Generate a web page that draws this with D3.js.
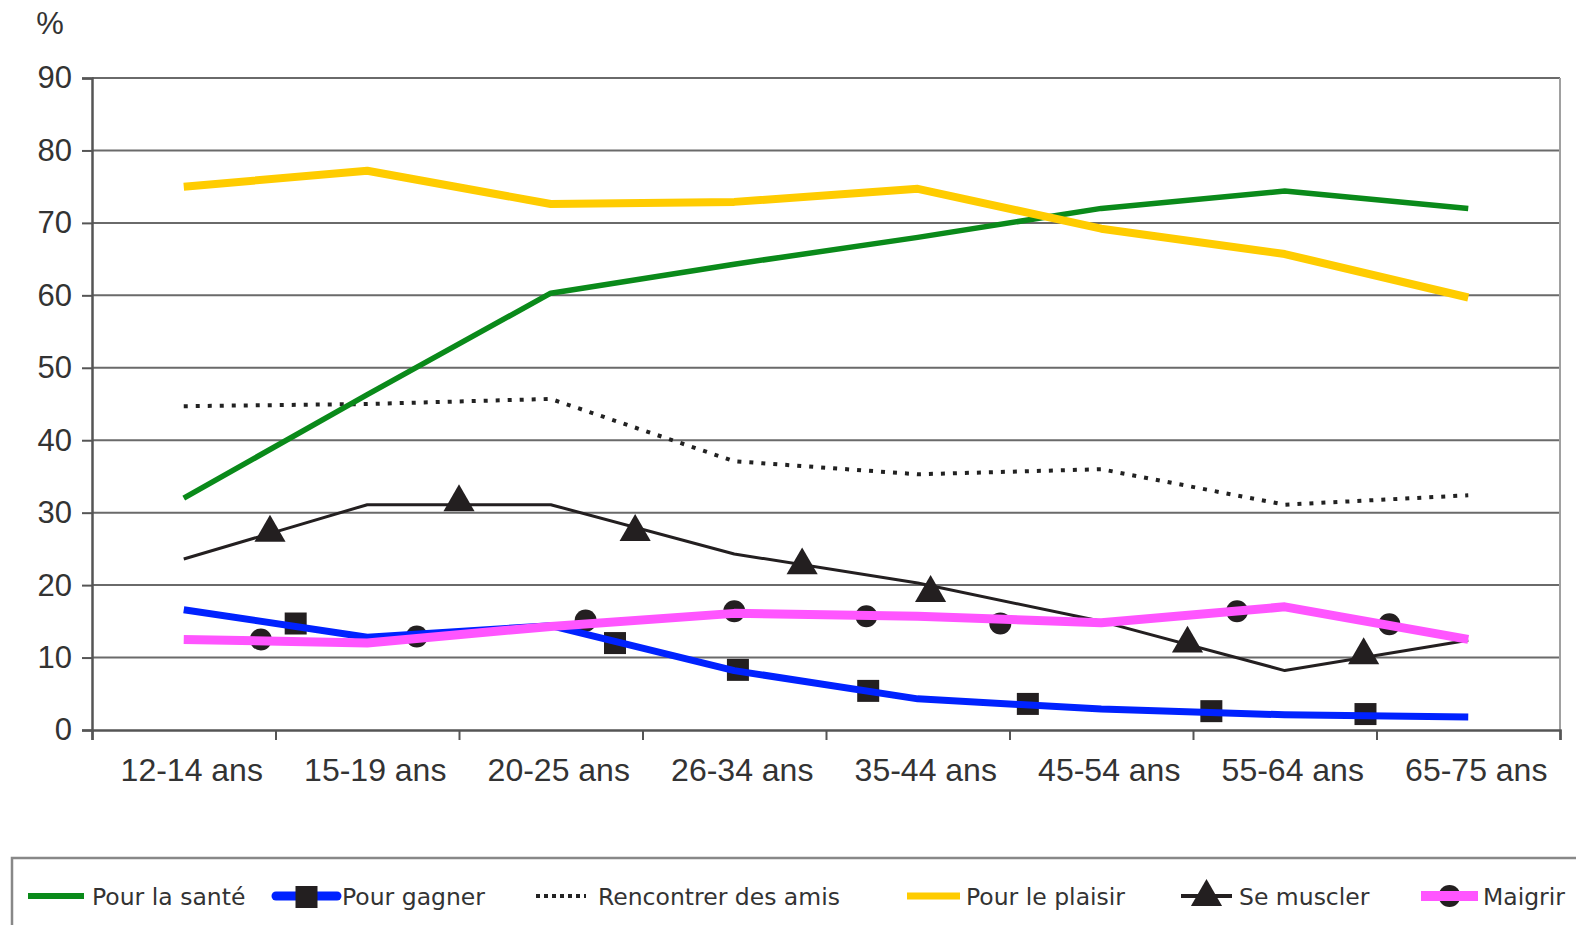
<!DOCTYPE html>
<html>
<head>
<meta charset="utf-8">
<script src="https://cdn.jsdelivr.net/npm/d3@7"></script>
<style>
  html, body { margin: 0; padding: 0; background: #fff; }
  svg { display: block; }
</style>
</head>
<body>
<svg id="chart" width="1576" height="925"></svg>
<script>
// Age groups (x categories)
const categories = ["12-14 ans", "15-19 ans", "20-25 ans", "26-34 ans", "35-44 ans", "45-54 ans", "55-64 ans", "65-75 ans"];
const yTicks = [0, 10, 20, 30, 40, 50, 60, 70, 80, 90];

// Percentages per age group
const sante      = [32, 46.3, 60.3, 64.3, 68, 72, 74.4, 72];
const gagner     = [16.6, 12.8, 14.4, 8.2, 4.3, 2.9, 2.1, 1.8];
const rencontrer = [44.7, 45, 45.7, 37.1, 35.3, 36, 31.1, 32.4];
const plaisir    = [75, 77.2, 72.6, 72.9, 74.7, 69.2, 65.7, 59.7];
const muscler    = [23.6, 31.1, 31.1, 24.3, 20.3, 15, 8.2, 12.4];
const maigrir    = [12.5, 12, 14.3, 16.1, 15.7, 14.8, 17, 12.5];

// Marker positions: [position along the category axis, value]
const gagnerMarkers  = [[0.61, 14.7], [2.35, 12], [3.02, 8.3], [3.73, 5.4], [4.6, 3.6], [5.6, 2.6], [6.44, 2.2]];
const musclerMarkers = [[0.47, 27.5], [1.5, 31.7], [2.46, 27.6], [3.37, 23], [4.07, 19.2], [5.47, 12.2], [6.43, 10.6]];
const maigrirMarkers = [[0.42, 12.5], [1.27, 12.9], [2.19, 15.1], [3.0, 16.4], [3.72, 15.7], [4.45, 14.7], [5.74, 16.4], [6.57, 14.6]];

const legendLabels = ["Pour la santé", "Pour gagner", "Rencontrer des amis", "Pour le plaisir", "Se muscler", "Maigrir"];

const svg = d3.select("#chart");
const plotLeft = 92, plotRight = 1560, plotTop = 78, plotBottom = 730;

const x = d3.scaleLinear().domain([-0.5, categories.length - 0.5]).range([plotLeft, plotRight]);
const y = d3.scaleLinear().domain([0, 90]).range([plotBottom, plotTop]);

const labelFont = "'Liberation Sans', Arial, sans-serif";
const legendFont = "'DejaVu Sans', Verdana, sans-serif";

// Horizontal gridlines
svg.append("g")
  .selectAll("line")
  .data(yTicks.filter(d => d > 0))
  .join("line")
  .attr("x1", plotLeft).attr("x2", plotRight)
  .attr("y1", d => y(d)).attr("y2", d => y(d))
  .attr("stroke", "#6a6a6a").attr("stroke-width", 2);

// Right border of the plot
svg.append("line")
  .attr("x1", plotRight).attr("x2", plotRight).attr("y1", plotTop).attr("y2", plotBottom)
  .attr("stroke", "#a0a0a0").attr("stroke-width", 2);

// Y axis
const yAxis = svg.append("g")
  .attr("transform", `translate(${plotLeft},0)`)
  .call(d3.axisLeft(y).tickValues(yTicks).tickSize(10).tickPadding(10));
yAxis.select(".domain").attr("stroke", "#555").attr("stroke-width", 2.5);
yAxis.selectAll(".tick line").attr("stroke", "#555").attr("stroke-width", 2);
yAxis.selectAll(".tick text")
  .attr("fill", "#333").style("font-family", labelFont).style("font-size", "31px");

// X axis: ticks between age groups
const xAxis = svg.append("g")
  .attr("transform", `translate(0,${plotBottom})`)
  .call(d3.axisBottom(x)
    .tickValues(d3.range(-0.5, categories.length, 1))
    .tickSize(10).tickFormat(""));
xAxis.select(".domain").attr("stroke", "#555").attr("stroke-width", 2.5);
xAxis.selectAll(".tick line").attr("stroke", "#555").attr("stroke-width", 2);

svg.append("g")
  .selectAll("text")
  .data(categories)
  .join("text")
  .attr("x", (d, i) => x(i) + 8)
  .attr("y", plotBottom + 51)
  .attr("text-anchor", "middle")
  .attr("fill", "#333")
  .style("font-family", labelFont).style("font-size", "32px")
  .text(d => d);

// Unit label
svg.append("text")
  .attr("x", 50).attr("y", 34)
  .attr("text-anchor", "middle")
  .attr("fill", "#333")
  .style("font-family", labelFont).style("font-size", "31px")
  .text("%");

const line = d3.line().x((d, i) => x(i)).y(d => y(d));
const plot = svg.append("g");

function drawLine(values, color, width, dash) {
  plot.append("path")
    .datum(values)
    .attr("d", line)
    .attr("fill", "none")
    .attr("stroke", color)
    .attr("stroke-width", width)
    .attr("stroke-linejoin", "round")
    .attr("stroke-dasharray", dash || null);
}

const circleSym = d3.symbol().type(d3.symbolCircle).size(Math.PI * 11 * 11);
const squareSym = d3.symbol().type(d3.symbolSquare).size(22 * 22);
const triSym = d3.symbol().type(d3.symbolTriangle).size(420);

function drawMarkers(points, sym, dy) {
  plot.append("g")
    .selectAll("path")
    .data(points)
    .join("path")
    .attr("transform", d => `translate(${x(d[0])},${y(d[1]) + (dy || 0)})`)
    .attr("d", sym)
    .attr("fill", "#231f20");
}

// Series
drawLine(rencontrer, "#222", 4, "4 8");
drawLine(sante, "#0a8a1a", 5.5);
drawLine(plaisir, "#ffcc00", 8);
drawMarkers(maigrirMarkers, circleSym);
drawMarkers(gagnerMarkers, squareSym);
drawLine(muscler, "#231f20", 3);
drawMarkers(musclerMarkers, triSym, 2);
drawLine(gagner, "#0022ff", 7);
drawLine(maigrir, "#ff55ff", 9);

// Legend
const legend = svg.append("g");
legend.append("rect")
  .attr("x", 12).attr("y", 858).attr("width", 1570).attr("height", 80)
  .attr("fill", "none").attr("stroke", "#888").attr("stroke-width", 2.5);

const legendItems = [
  { label: legendLabels[0], color: "#0a8a1a", width: 6, x0: 28, x1: 84, text: 92 },
  { label: legendLabels[1], color: "#0022ff", width: 9, x0: 276, x1: 337, text: 342, marker: squareSym, cap: "round" },
  { label: legendLabels[2], color: "#222", width: 4, x0: 536, x1: 586, text: 598, dash: "4 4" },
  { label: legendLabels[3], color: "#ffcc00", width: 7, x0: 907, x1: 960, text: 966 },
  { label: legendLabels[4], color: "#231f20", width: 4, x0: 1181, x1: 1232, text: 1239, marker: triSym, markerFirst: false },
  { label: legendLabels[5], color: "#ff55ff", width: 10, x0: 1421, x1: 1478, text: 1483, marker: circleSym, markerFirst: true }
];
const ly = 896;
legendItems.forEach(it => {
  const mx = (it.x0 + it.x1) / 2;
  if (it.marker && it.markerFirst) {
    legend.append("path").attr("transform", `translate(${mx},${ly})`).attr("d", it.marker).attr("fill", "#231f20");
  }
  legend.append("line")
    .attr("x1", it.x0).attr("x2", it.x1).attr("y1", ly).attr("y2", ly)
    .attr("stroke", it.color).attr("stroke-width", it.width)
    .attr("stroke-linecap", it.cap || "butt")
    .attr("stroke-dasharray", it.dash || null);
  if (it.marker && !it.markerFirst) {
    legend.append("path").attr("transform", `translate(${mx},${ly + 1})`).attr("d", it.marker).attr("fill", "#231f20");
  }
  legend.append("text")
    .attr("x", it.text).attr("y", ly + 9)
    .attr("fill", "#333")
    .style("font-family", legendFont).style("font-size", "23.5px")
    .text(it.label);
});
</script>
</body>
</html>
